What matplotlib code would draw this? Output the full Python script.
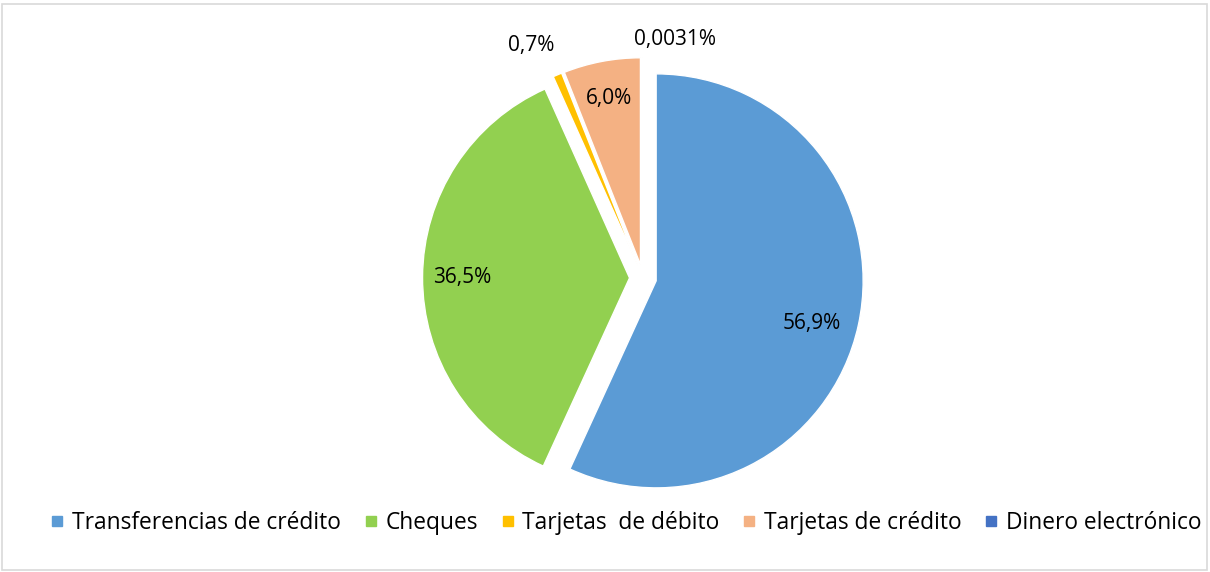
import numpy as np
import matplotlib
matplotlib.use("Agg")
import matplotlib.pyplot as plt
from matplotlib.lines import Line2D
from matplotlib.patches import Rectangle

# Datos del grafico (participacion % por instrumento)
categorias = ["Transferencias de crédito", "Cheques", "Tarjetas  de débito",
              "Tarjetas de crédito", "Dinero electrónico"]
valores = [56.9, 36.5, 0.7, 6.0, 0.0031]
etiquetas = ["56,9%", "36,5%", "0,7%", "6,0%", "0,0031%"]
colores = ["#5B9BD5", "#92D050", "#FFC000", "#F4B183", "#4472C4"]

# posicion de las etiquetas (distancia radial y ajuste de angulo)
dist_etiq = [0.78, 0.81, 1.18, 0.82, 1.10]
ajuste_ang = [-3, 0, 3, 0, -8]

FONT = "Open Sans"

fig = plt.figure(figsize=(12.1, 5.72), dpi=100)
W, H = 1210, 572
R = 207          # radio en pixeles
cx, cy = 643, 572 - 278
lim = 1.35
side = 2 * lim * R
ax = fig.add_axes([(cx - side / 2) / W, (cy - side / 2) / H, side / W, side / H])

wedges, _ = ax.pie(valores, colors=colores, startangle=90, counterclock=False,
                   explode=[0.065] * len(valores), radius=1,
                   wedgeprops=dict(edgecolor="white", linewidth=1.0))
ax.set_xlim(-lim, lim)
ax.set_ylim(-lim, lim)
ax.set_aspect("equal")
ax.axis("off")

for w, txt, d, da in zip(wedges, etiquetas, dist_etiq, ajuste_ang):
    ang = np.deg2rad((w.theta1 + w.theta2) / 2 + da)
    x0, y0 = w.center
    ax.text(x0 + d * np.cos(ang), y0 + d * np.sin(ang), txt,
            ha="center", va="center", fontsize=15, family=FONT, color="#000000")

handles = [Line2D([], [], marker="s", linestyle="none", markersize=7,
                  markerfacecolor=c, markeredgecolor=c) for c in colores]
fig.legend(handles, categorias, loc="center", bbox_to_anchor=(626 / W, 1 - 523 / H),
           ncol=5, frameon=False, prop={"family": FONT, "size": 16.4},
           handlelength=0.6, handletextpad=0.35, columnspacing=1.0)

# borde del area del grafico
fig.patches.append(Rectangle((2 / W, 2 / H), 1205 / W, 566 / H, transform=fig.transFigure,
                             fill=False, edgecolor="#D9D9D9", linewidth=1.2))

fig.savefig("out.png", dpi=100)
